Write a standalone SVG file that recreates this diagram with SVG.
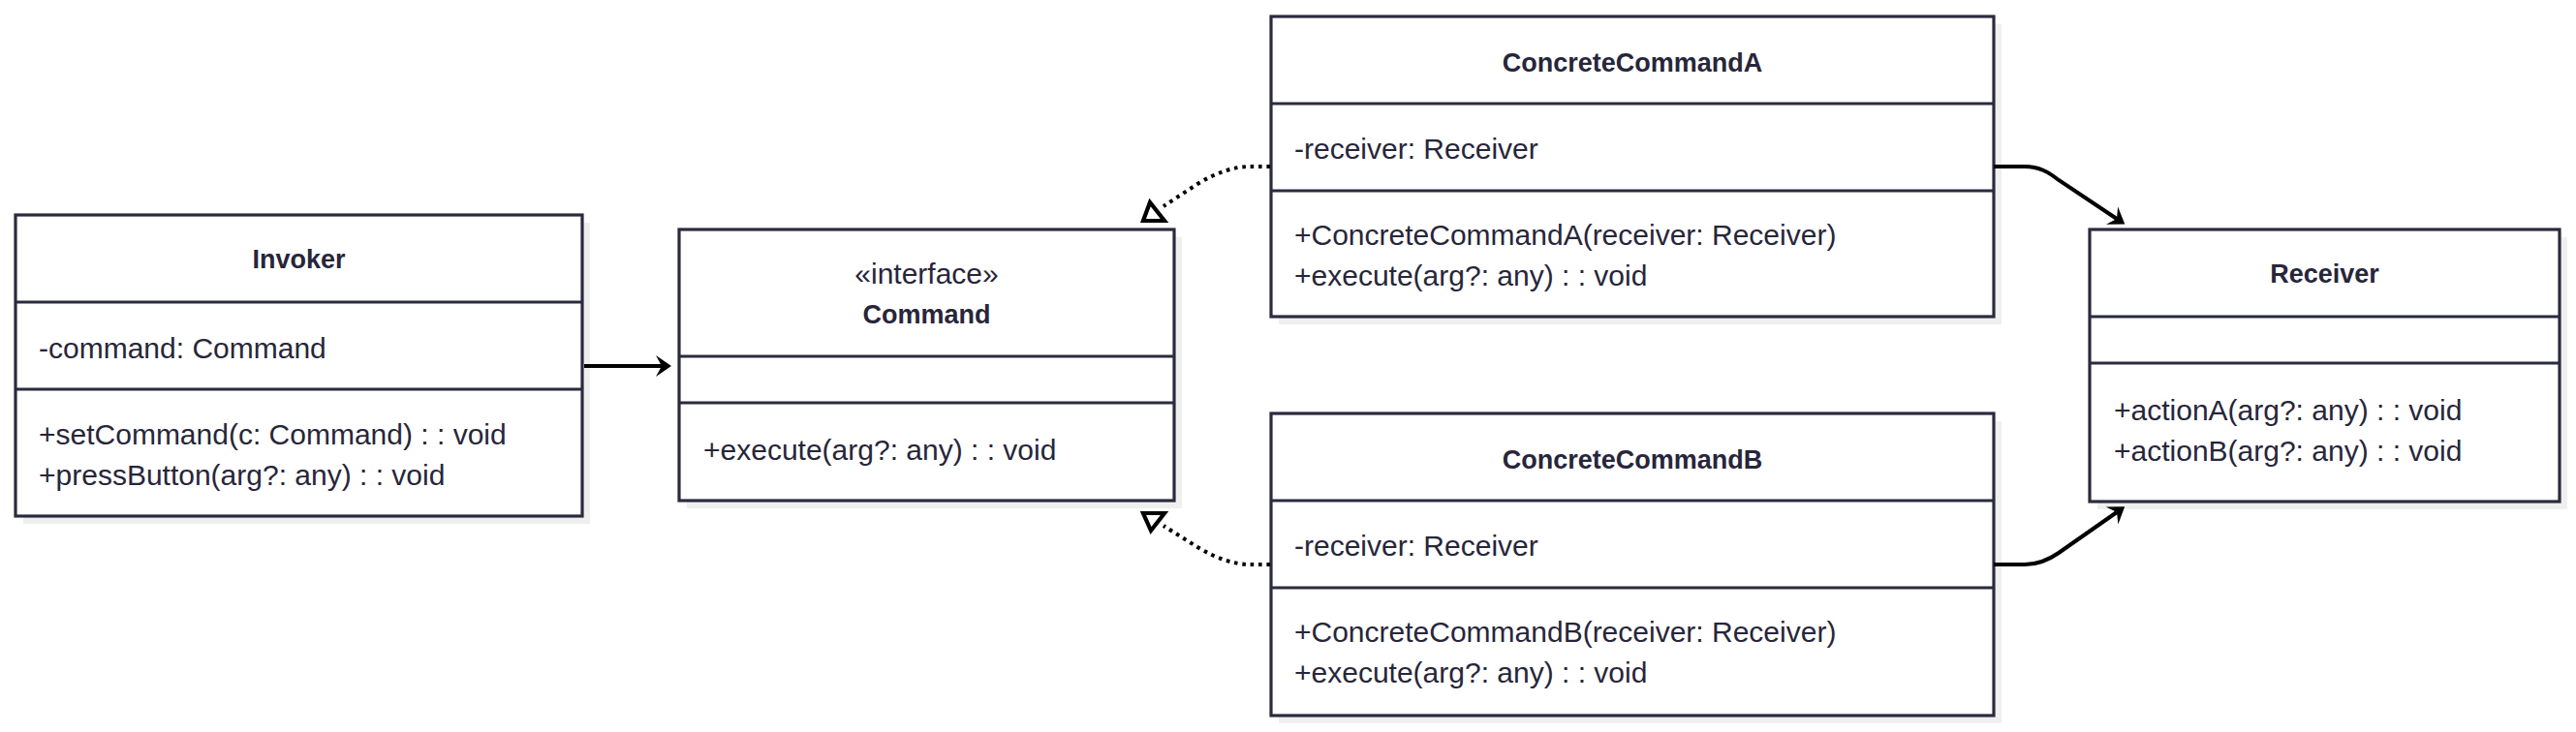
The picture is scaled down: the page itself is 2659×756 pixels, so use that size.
<svg xmlns="http://www.w3.org/2000/svg" width="2659" height="756" viewBox="0 0 2659 756">
<style>
.shadow{fill:#efefef;stroke:none}
.box{fill:#ffffff;stroke:#2b2a3e;stroke-width:3.2}
.div{stroke:#2b2a3e;stroke-width:3.2;fill:none}
.title{font-family:"Liberation Sans",Arial,sans-serif;font-weight:bold;font-size:27px;fill:#27263a;text-anchor:middle}
.stereo{font-family:"Liberation Sans",Arial,sans-serif;font-size:30px;fill:#27263a;text-anchor:middle}
.member{font-family:"Liberation Sans",Arial,sans-serif;font-size:30px;fill:#27263a}
.solid{fill:none;stroke:#000;stroke-width:4}
.dotted{fill:none;stroke:#000;stroke-width:4;stroke-dasharray:3.6 4.8}
.tri{fill:#fff;stroke:#000;stroke-width:4.2;stroke-linejoin:miter}
</style>
<defs>
<marker id="arrow" markerUnits="userSpaceOnUse" markerWidth="22" markerHeight="28" viewBox="-18 -14 22 28" refX="-10" refY="0" orient="auto">
<path d="M0,0 L-16,-11 L-10,0 L-16,11 z" fill="#000"/>
</marker>
</defs>
<rect width="2659" height="756" fill="#ffffff"/>

<g id="Invoker">
<rect class="shadow" x="24" y="230" width="585" height="311"/>
<rect class="box" x="16" y="222" width="585" height="311"/>
<line class="div" x1="16" y1="312" x2="601" y2="312"/>
<line class="div" x1="16" y1="402" x2="601" y2="402"/>
<text class="title" x="308.5" y="277">Invoker</text>
<text class="member" x="40" y="370">-command: Command</text>
<text class="member" x="40" y="459">+setCommand(c: Command) : : void</text>
<text class="member" x="40" y="501">+pressButton(arg?: any) : : void</text>
</g>

<g id="Command">
<rect class="shadow" x="709" y="245" width="511" height="280"/>
<rect class="box" x="701" y="237" width="511" height="280"/>
<line class="div" x1="701" y1="368" x2="1212" y2="368"/>
<line class="div" x1="701" y1="416" x2="1212" y2="416"/>
<text class="stereo" x="956.5" y="293">«interface»</text>
<text class="title" x="956.5" y="334">Command</text>
<text class="member" x="726" y="475">+execute(arg?: any) : : void</text>
</g>

<g id="ConcreteCommandA">
<rect class="shadow" x="1320" y="25" width="746" height="310"/>
<rect class="box" x="1312" y="17" width="746" height="310"/>
<line class="div" x1="1312" y1="107" x2="2058" y2="107"/>
<line class="div" x1="1312" y1="197" x2="2058" y2="197"/>
<text class="title" x="1685" y="74">ConcreteCommandA</text>
<text class="member" x="1336" y="164">-receiver: Receiver</text>
<text class="member" x="1336" y="253">+ConcreteCommandA(receiver: Receiver)</text>
<text class="member" x="1336" y="295">+execute(arg?: any) : : void</text>
</g>

<g id="ConcreteCommandB">
<rect class="shadow" x="1320" y="435" width="746" height="312"/>
<rect class="box" x="1312" y="427" width="746" height="312"/>
<line class="div" x1="1312" y1="517" x2="2058" y2="517"/>
<line class="div" x1="1312" y1="607" x2="2058" y2="607"/>
<text class="title" x="1685" y="484">ConcreteCommandB</text>
<text class="member" x="1336" y="574">-receiver: Receiver</text>
<text class="member" x="1336" y="663">+ConcreteCommandB(receiver: Receiver)</text>
<text class="member" x="1336" y="705">+execute(arg?: any) : : void</text>
</g>

<g id="Receiver">
<rect class="shadow" x="2165" y="245" width="485" height="281"/>
<rect class="box" x="2157" y="237" width="485" height="281"/>
<line class="div" x1="2157" y1="327" x2="2642" y2="327"/>
<line class="div" x1="2157" y1="375" x2="2642" y2="375"/>
<text class="title" x="2399.5" y="292">Receiver</text>
<text class="member" x="2182" y="434">+actionA(arg?: any) : : void</text>
<text class="member" x="2182" y="476">+actionB(arg?: any) : : void</text>
</g>

<g id="connectors">
<path class="solid" d="M603,378 L683,378" marker-end="url(#arrow)"/>
<path class="dotted" d="M1311,172 L1290,172 Q1266,172 1236,190 L1201,213"/>
<polygon class="tri" points="1187,209 1180,228 1202,228"/>
<path class="dotted" d="M1311,583 L1290,583 Q1266,583 1236,565 L1201,543"/>
<polygon class="tri" points="1180,530 1202,530 1188,548"/>
<path class="solid" d="M2058,172 L2090,172 C2105,172 2115,178 2125,186 L2185,226" marker-end="url(#arrow)"/>
<path class="solid" d="M2058,583 L2090,583 C2105,583 2115,578 2125,571 L2185,529" marker-end="url(#arrow)"/>
</g>
</svg>
